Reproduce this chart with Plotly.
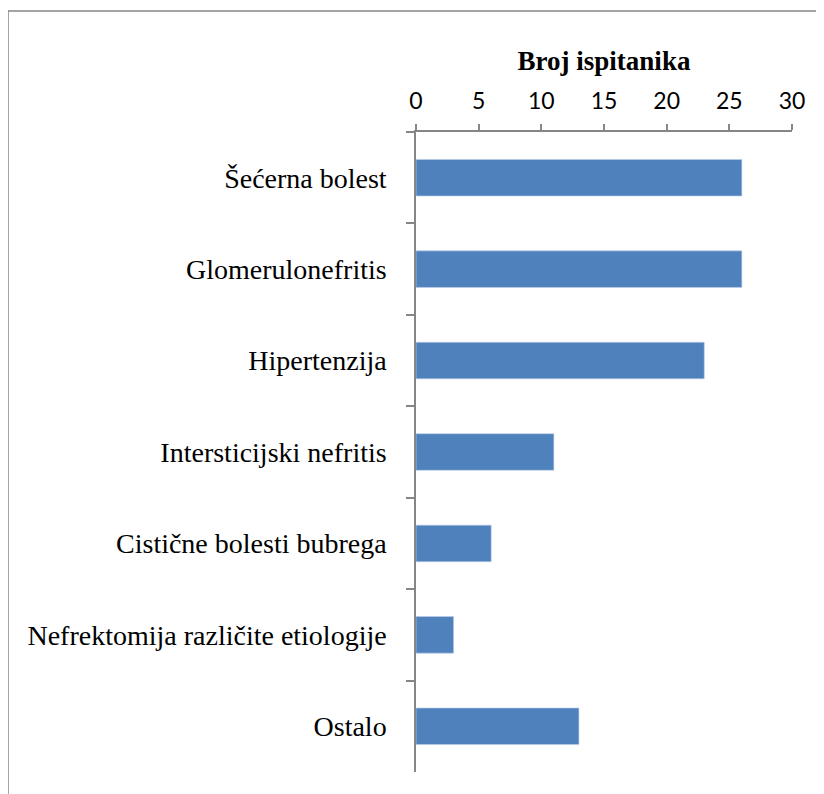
import plotly.graph_objects as go

categories = [
    "Šećerna bolest",
    "Glomerulonefritis",
    "Hipertenzija",
    "Intersticijski nefritis",
    "Cistične bolesti bubrega",
    "Nefrektomija različite etiologije",
    "Ostalo",
]
values = [26, 26, 23, 11, 6, 3, 13]
x_ticks = [0, 5, 10, 15, 20, 25, 30]
axis_title = "Broj ispitanika"

fig = go.Figure(go.Bar(
    x=values, y=categories, orientation="h",
    marker=dict(color="#4F81BD", line=dict(color="#BFD0E6", width=0.6)),
    width=0.4,
))

axis_color = "#868686"
fig.update_layout(
    width=816, height=786,
    margin=dict(l=408, r=32, t=124, b=22),
    paper_bgcolor="white", plot_bgcolor="white",
    showlegend=False,
    xaxis=dict(
        side="top", range=[0, 30], tickvals=x_ticks,
        showgrid=False, zeroline=False,
        showline=True, linecolor=axis_color, linewidth=1.5,
        ticks="outside", ticklen=6, tickcolor=axis_color, tickwidth=1.5,
        ticklabelstandoff=6,
        tickfont=dict(family="Lato", size=23, color="black"),
        title=dict(text="<b>" + axis_title + "</b>",
                   font=dict(family="Times New Roman", size=27, color="black"),
                   standoff=8),
    ),
    yaxis=dict(
        autorange="reversed", type="category",
        showgrid=False, zeroline=False,
        showline=True, linecolor=axis_color, linewidth=1.5,
        ticks="outside", ticklen=8, tickcolor=axis_color, tickwidth=1.5,
        tickson="boundaries", ticklabelstandoff=22,
        tickfont=dict(family="Times New Roman", size=28, color="black"),
    ),
    shapes=[
        dict(type="line", xref="paper", yref="paper",
             x0=(0 - 408) / 376, x1=(830 - 408) / 376,
             y0=(764 - 3) / 640, y1=(764 - 3) / 640,
             line=dict(color=axis_color, width=1.5)),
        dict(type="line", xref="paper", yref="paper",
             x0=(0 - 408) / 376, x1=(0 - 408) / 376,
             y0=(764 - 3) / 640, y1=(764 - 800) / 640,
             line=dict(color=axis_color, width=1.5)),
    ],
)

fig.write_html("out.html")
